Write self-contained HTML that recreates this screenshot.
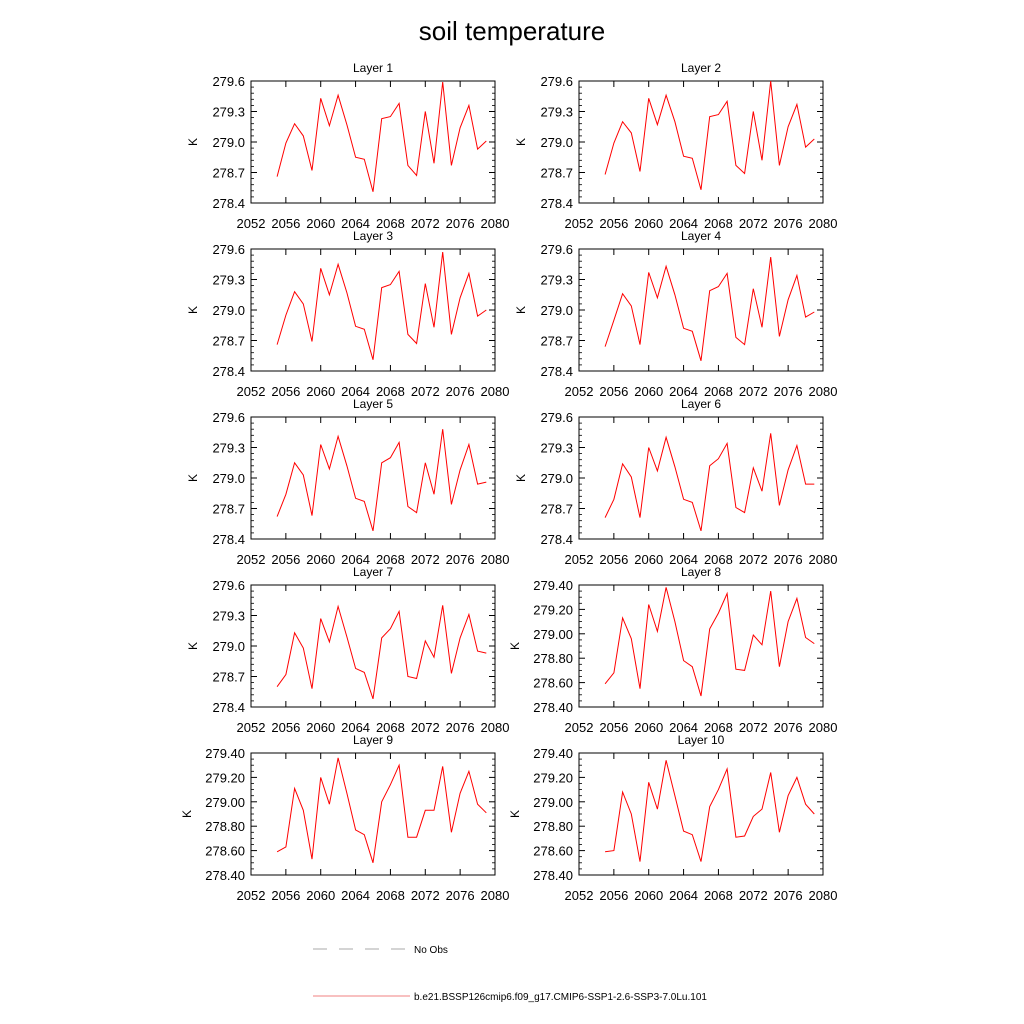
<!DOCTYPE html>
<html><head><meta charset="utf-8"><style>
html,body{margin:0;padding:0;background:#fff;}
svg{display:block;font-family:"Liberation Sans",Arial,sans-serif;}
</style></head><body>
<svg id="chart" width="1024" height="1024" viewBox="0 0 1024 1024">
<text x="512" y="40" font-size="26" text-anchor="middle">soil temperature</text>
<g>
<line x1="313" y1="949" x2="410" y2="949" stroke="#555" stroke-width="0.6" stroke-dasharray="14,12"/>
<text x="414" y="953" font-size="10">No Obs</text>
<line x1="313" y1="996" x2="410" y2="996" stroke="#f08080" stroke-width="1"/>
<text x="414" y="1000" font-size="10">b.e21.BSSP126cmip6.f09_g17.CMIP6-SSP1-2.6-SSP3-7.0Lu.101</text>
</g>
</svg>
<script>
const years=[2055,2056,2057,2058,2059,2060,2061,2062,2063,2064,2065,2066,2067,2068,2069,2070,2071,2072,2073,2074,2075,2076,2077,2078,2079];
const xTicks=[2052,2056,2060,2064,2068,2072,2076,2080];
const layer1=[278.66,278.99,279.18,279.06,278.72,279.43,279.16,279.46,279.17,278.85,278.83,278.51,279.23,279.25,279.38,278.77,278.67,279.30,278.79,279.59,278.77,279.14,279.36,278.93,279.01];
const layer2=[278.68,278.99,279.20,279.09,278.71,279.43,279.17,279.46,279.20,278.86,278.84,278.53,279.25,279.27,279.40,278.77,278.69,279.30,278.82,279.60,278.77,279.15,279.37,278.95,279.03];
const layer3=[278.66,278.95,279.18,279.06,278.69,279.41,279.15,279.45,279.17,278.84,278.81,278.51,279.22,279.25,279.38,278.76,278.67,279.26,278.83,279.57,278.76,279.12,279.36,278.94,279.00];
const layer4=[278.64,278.90,279.16,279.04,278.66,279.37,279.12,279.43,279.15,278.82,278.79,278.50,279.19,279.23,279.36,278.73,278.66,279.21,278.83,279.52,278.74,279.10,279.34,278.93,278.98];
const layer5=[278.62,278.84,279.15,279.03,278.63,279.33,279.09,279.41,279.12,278.80,278.77,278.48,279.15,279.20,279.35,278.72,278.66,279.15,278.84,279.48,278.74,279.08,279.33,278.94,278.96];
const layer6=[278.61,278.79,279.14,279.01,278.61,279.30,279.07,279.40,279.11,278.79,278.76,278.48,279.12,279.19,279.34,278.71,278.66,279.10,278.87,279.44,278.73,279.08,279.32,278.94,278.94];
const layer7=[278.60,278.72,279.13,278.98,278.58,279.27,279.04,279.39,279.09,278.78,278.74,278.48,279.08,279.17,279.34,278.70,278.68,279.05,278.89,279.40,278.73,279.08,279.31,278.95,278.93];
const layer8=[278.59,278.68,279.13,278.96,278.55,279.24,279.02,279.38,279.10,278.78,278.73,278.49,279.04,279.17,279.33,278.71,278.70,278.99,278.91,279.35,278.73,279.10,279.29,278.97,278.92];
const layer9=[278.59,278.63,279.11,278.93,278.53,279.20,278.98,279.36,279.07,278.77,278.73,278.50,279.00,279.14,279.30,278.71,278.71,278.93,278.93,279.29,278.75,279.07,279.25,278.98,278.91];
const layer10=[278.59,278.60,279.08,278.90,278.51,279.16,278.94,279.34,279.05,278.76,278.73,278.51,278.96,279.10,279.27,278.71,278.72,278.88,278.94,279.24,278.75,279.05,279.20,278.98,278.90];
const yTicksA=[278.4,278.7,279.0,279.3,279.6];
const yTicksB=[278.4,278.6,278.8,279.0,279.2,279.4];
const layerData=[layer1,layer2,layer3,layer4,layer5,layer6,layer7,layer8,layer9,layer10];

const NS="http://www.w3.org/2000/svg";
const svg=document.getElementById('chart');
function mk(tag,attrs,parent){const e=document.createElementNS(NS,tag);for(const k in attrs)e.setAttribute(k,attrs[k]);parent.appendChild(e);return e;}

layerData.forEach((vals,i)=>{
  const col=i%2,row=Math.floor(i/2);
  const L=col?579:251,R=col?823:495,T=81+row*168,B=T+122;
  const fine=i>=7;
  const yt=fine?yTicksB:yTicksA;
  const yMin=yt[0],yMax=yt[yt.length-1];
  const xs=v=>L+(v-2052)/(2080-2052)*(R-L);
  const ys=v=>B-(v-yMin)/(yMax-yMin)*(B-T);
  const g=mk('g',{},svg);
  
  
  const t=mk('text',{x:(L+R)/2,y:T-9,'font-size':12,'text-anchor':'middle'},g);
  
  
  t.textContent='Layer '+(i+1);
  const fr=mk('rect',{x:L,y:T,width:R-L,height:B-T,fill:'none',stroke:'#000','stroke-width':1},g);
  
  
  xTicks.forEach(v=>{
    const x=xs(v);
    mk('line',{x1:x,y1:B,x2:x,y2:B-6,stroke:'#000','stroke-width':1},g);
    mk('line',{x1:x,y1:T,x2:x,y2:T+6,stroke:'#000','stroke-width':1},g);
    const lb=mk('text',{x:x,y:B+25,'font-size':13,'text-anchor':'middle'},g);
    
    
    lb.textContent=v;
  });
  const step=yt[1]-yt[0];
  const nMinor=fine?4:5;
  for(let k=0;k<yt.length;k++){
    const y=ys(yt[k]);
    mk('line',{x1:L,y1:y,x2:L+6,y2:y,stroke:'#000','stroke-width':1},g);
    mk('line',{x1:R,y1:y,x2:R-6,y2:y,stroke:'#000','stroke-width':1},g);
    const lb=mk('text',{x:L-6,y:y+5,'font-size':13,'text-anchor':'end'},g);
    
    
    lb.textContent=yt[k].toFixed(fine?2:1);
    if(k<yt.length-1){
      for(let m=1;m<nMinor;m++){
        const ym=ys(yt[k]+step*m/nMinor);
        mk('line',{x1:L,y1:ym,x2:L+3,y2:ym,stroke:'#000','stroke-width':0.8},g);
        mk('line',{x1:R,y1:ym,x2:R-3,y2:ym,stroke:'#000','stroke-width':0.8},g);
      }
    }
  }
  const yl=mk('text',{x:0,y:0,'font-size':12,'text-anchor':'middle',transform:`translate(${fine?L-60:L-54},${(T+B)/2}) rotate(-90)`},g);
  
  
  yl.textContent='K';
  const pts=vals.map((v,j)=>xs(years[j]).toFixed(1)+','+ys(v).toFixed(1)).join(' ');
  const pl=mk('polyline',{points:pts,fill:'none',stroke:'#ff0000','stroke-width':1},g);
  
  
});
</script>
</body></html>
